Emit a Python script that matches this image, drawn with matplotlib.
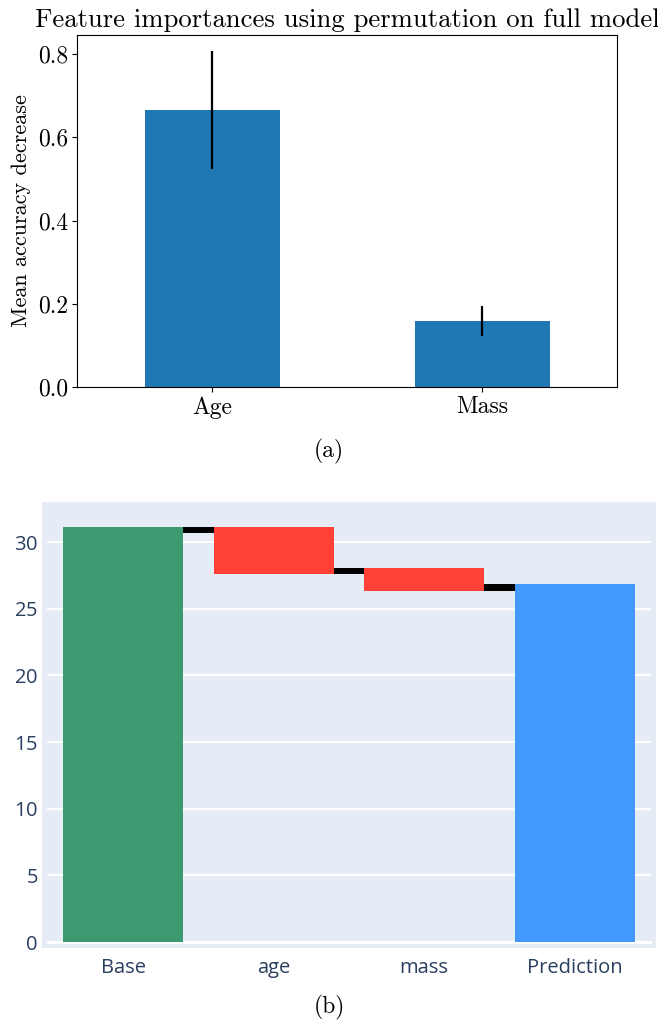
import matplotlib.pyplot as plt
import numpy as np

# (a) permutation importances
features = ["Age", "Mass"]
importance_mean = [0.665, 0.158]
importance_std = [0.142, 0.036]

# (b) waterfall
steps = ["Base", "age", "mass", "Prediction"]
step_bottom = [0.0, 27.58, 26.35, 0.0]
step_top = [31.15, 31.15, 28.08, 26.85]
link_low = [30.65, 27.58, 26.35]
link_high = [31.15, 28.08, 26.85]
step_colors = ["#3D9970", "#FF4136", "#FF4136", "#4499FF"]

W, H = 658, 1029
plt.rcParams['font.family'] = 'serif'
plt.rcParams['font.serif'] = ['cmr10', 'DejaVu Serif']
plt.rcParams['mathtext.fontset'] = 'cm'
plt.rcParams['axes.formatter.use_mathtext'] = True

fig = plt.figure(figsize=(W / 100, H / 100), dpi=100)

def px_axes(x0, y0, x1, y1):
    return fig.add_axes([x0 / W, 1 - y1 / H, (x1 - x0) / W, (y1 - y0) / H])

# top chart
ax1 = px_axes(77, 35, 617, 387)
x = np.arange(len(features))
ax1.bar(x, importance_mean, width=0.5, color="#1f77b4")
ax1.errorbar(x, importance_mean, yerr=importance_std, fmt="none", ecolor="black", elinewidth=1.6)
ax1.set_xlim(-0.5, 1.5)
ax1.set_ylim(0, 0.846)
ax1.set_yticks([0.0, 0.2, 0.4, 0.6, 0.8])
ax1.set_yticklabels(["0.0", "0.2", "0.4", "0.6", "0.8"])
ax1.set_xticks(x)
ax1.set_xticklabels(features)
ax1.tick_params(labelsize=17, pad=3)
ax1.set_ylabel("Mean accuracy decrease", fontsize=16, labelpad=5)
ax1.set_title("Feature importances using permutation on full model", fontsize=19.2, pad=6)
fig.text(329 / W, 1 - 451 / H, "(a)", ha="center", va="center", fontsize=17)

# bottom chart, plotly look
ax2 = px_axes(42, 502, 656, 948)
ax2.set_facecolor("#E5ECF6")
for s in ax2.spines.values():
    s.set_visible(False)
xs = np.arange(len(steps))
ax2.set_xlim(-0.54, 3.54)
ax2.set_ylim(-0.45, 33.0)
yt = [0, 5, 10, 15, 20, 25, 30]
for v in yt:
    ax2.axhline(v, xmin=0.01, xmax=0.99, color="white", lw=1.5 if v else 2.2, zorder=1)
heights = np.array(step_top) - np.array(step_bottom)
ax2.bar(xs, heights, bottom=step_bottom, width=0.8, color=step_colors, zorder=2)
ax2.bar(xs[:-1] + 0.5, np.array(link_high) - np.array(link_low), bottom=link_low,
        width=0.2, color="black", zorder=2)
ax2.set_xticks(xs)
ax2.set_xticklabels(steps)
ax2.set_yticks(yt)
ax2.tick_params(length=0, labelsize=14.5, labelcolor="#2a3f5f", pad=3)
for lab in ax2.get_xticklabels() + ax2.get_yticklabels():
    lab.set_family("Open Sans")
ax2.tick_params(axis="x", pad=7)
fig.text(329 / W, 1 - 1007 / H, "(b)", ha="center", va="center", fontsize=17)

fig.savefig("out.png", dpi=100)
